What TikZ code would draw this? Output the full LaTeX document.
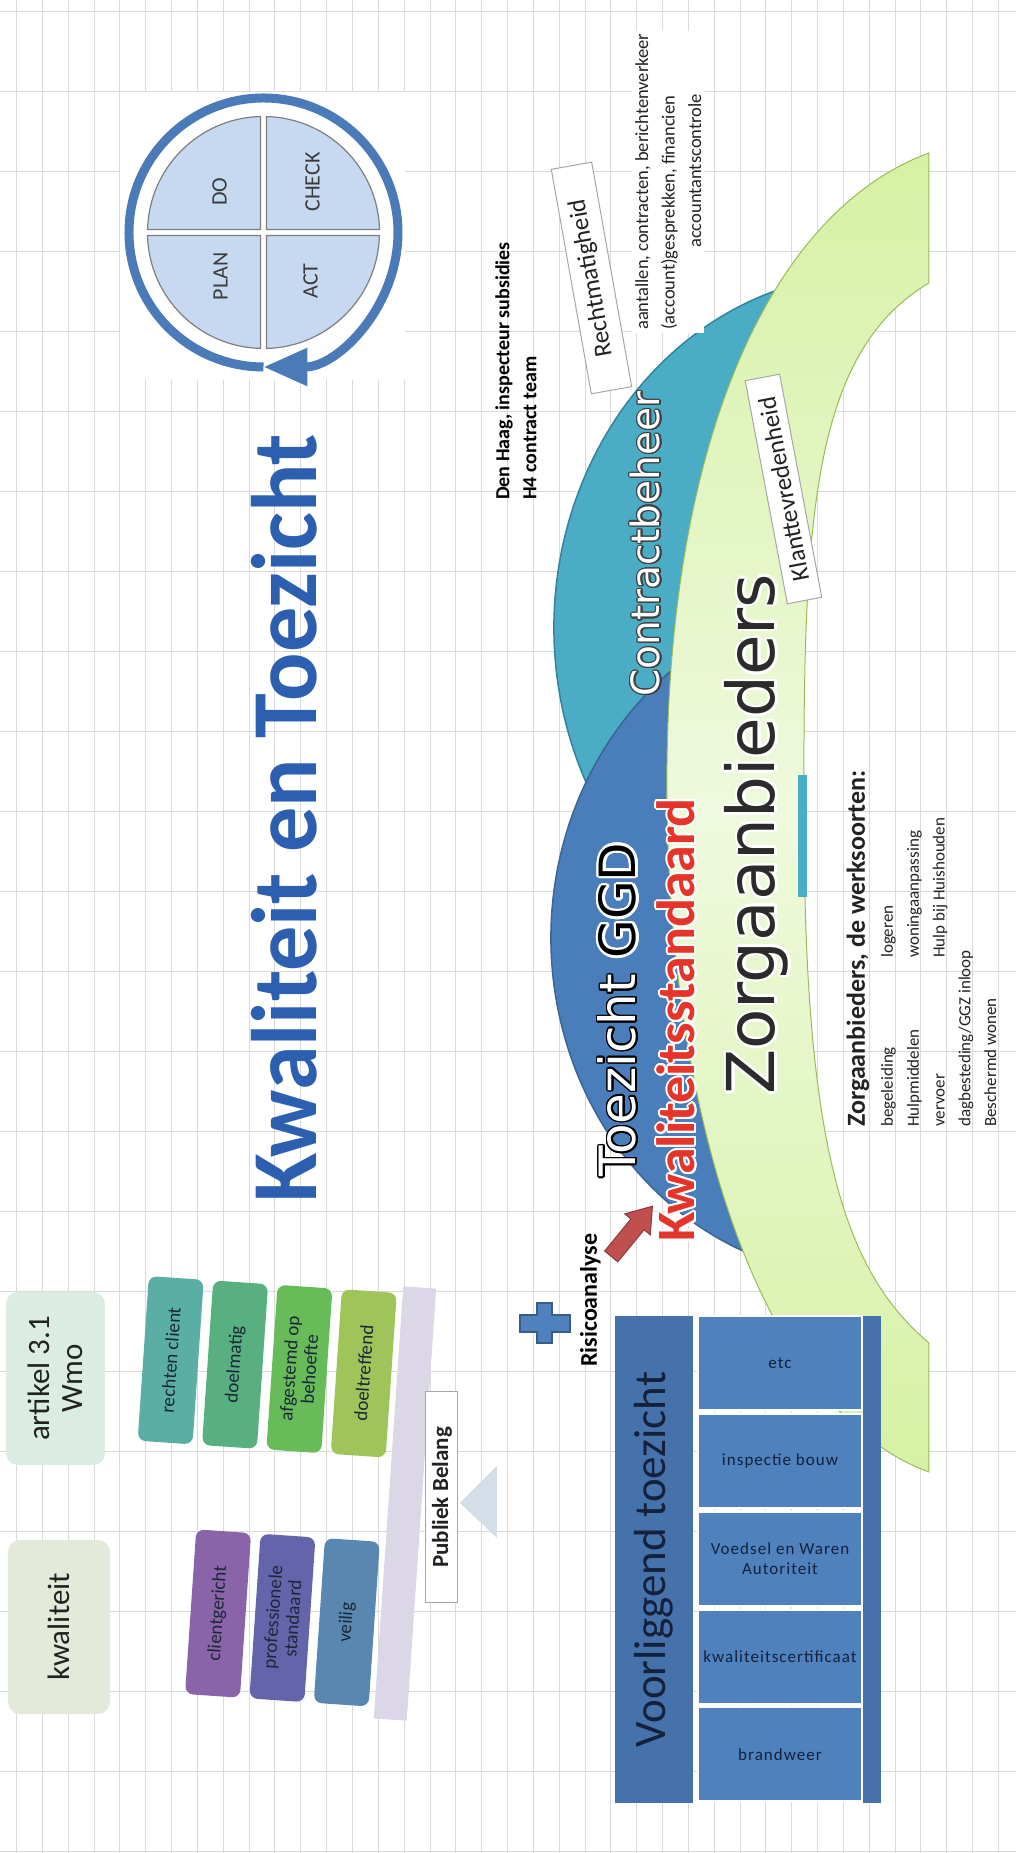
\documentclass[tikz,border=0pt]{standalone}
\usepackage{fontspec}
\setmainfont{Carlito}
\newfontfamily\roundfont{DejaVu Sans}
\newfontfamily\cellfont[LetterSpace=6]{Carlito}
\usepackage[copies]{contour}
\usetikzlibrary{arrows.meta, shapes.arrows}

% colours
\definecolor{gridgray}{HTML}{DADADA}
\definecolor{pdcablue}{HTML}{4A7AB8}
\definecolor{pdcafill}{HTML}{C6D9F1}
\definecolor{quadedge}{HTML}{7F7F7F}
\definecolor{labeltext}{HTML}{3B3B3B}
\definecolor{titleblue}{HTML}{2C5FB0}
\definecolor{darktext}{HTML}{222222}
\definecolor{wmogreen}{HTML}{DBECE3}
\definecolor{kwalgreen}{HTML}{E3EAD9}
\definecolor{beamlav}{HTML}{DCD7E7}
\definecolor{fulcrum}{HTML}{D3DEE8}
\definecolor{labelgray}{HTML}{A6A6A6}
\definecolor{pillartext}{HTML}{1B2838}
\definecolor{cRechten}{HTML}{5BAEA4}
\definecolor{cDoelmatig}{HTML}{58B080}
\definecolor{cAfgestemd}{HTML}{67BB58}
\definecolor{cDoeltreffend}{HTML}{9EC45A}
\definecolor{cClient}{HTML}{8A64A8}
\definecolor{cProf}{HTML}{6464AA}
\definecolor{cVeilig}{HTML}{5A87AF}
\definecolor{ggdblue}{HTML}{4A7EBB}
\definecolor{ggdedge}{HTML}{3A6594}
\definecolor{cbteal}{HTML}{4BACC6}
\definecolor{cbedge}{HTML}{31849B}
\definecolor{bandend}{HTML}{D6F1A4}
\definecolor{bandmid}{HTML}{EFF9DE}
\definecolor{bandedge}{HTML}{9BBB59}
\definecolor{kwred}{HTML}{E5352B}
\definecolor{zorgdark}{HTML}{2B2B2B}
\definecolor{vtdark}{HTML}{4672AB}
\definecolor{cellblue}{HTML}{4F81BD}
\definecolor{vttext}{HTML}{14213D}
\definecolor{plusblue}{HTML}{4F81BD}
\definecolor{plusedge}{HTML}{385D8A}
\definecolor{riskred}{HTML}{C0504D}
\definecolor{riskedge}{HTML}{8C3A37}

\tikzset{
  gridline/.style={draw=gridgray, line width=1pt},
  quadrant/.style={fill=pdcafill, draw=quadedge, line width=1.2pt},
  pdcalabel/.style={text=labeltext, font=\fontsize{22}{24}\selectfont, inner sep=0pt},
  pdcaring/.style={draw=pdcablue, line width=9pt},
  topbox/.style={rounded corners=12pt, text=darktext, align=center, font=\fontsize{31}{33}\selectfont},
  pillar/.style={rounded corners=8pt, minimum width=165pt, minimum height=55pt, inner sep=2pt,
    align=center, text=pillartext, font=\fontsize{19}{20}\selectfont, transform shape},
  labelbox/.style={fill=white, draw=labelgray, line width=1pt, inner sep=0pt, text=darktext,
    font=\fontsize{25}{28}\selectfont},
  dome/.style={line width=1.5pt},
  band/.style={left color=bandend, right color=bandend, middle color=bandmid, draw=bandedge, line width=1pt},
  bigword/.style={anchor=base west, inner sep=0pt},
  vthead/.style={fill=vtdark, minimum width=487pt, minimum height=78pt, text=vttext,
    font=\fontsize{45}{48}\selectfont},
  cellbox/.style={fill=cellblue, draw=white, line width=2pt, minimum width=164pt, minimum height=94pt,
    inner sep=1pt, align=center, text=vttext, font=\cellfont\fontsize{17}{20}\selectfont},
  riskarrow/.style={single arrow, fill=riskred, draw=riskedge, line width=1pt, minimum height=65pt,
    inner xsep=0pt, inner ysep=8pt, single arrow head extend=8pt, single arrow tip angle=70},
  listitem/.style={anchor=base west, inner sep=0pt, text=darktext, font=\fontsize{17}{19}\selectfont}
}

\begin{document}
\begin{tikzpicture}[x=1pt, y=1pt]
    % Page (portrait), the sheet itself is drawn turned
    \useasboundingbox (-1016,0) rectangle (0,1853);
    \fill[white] (-1016,0) rectangle (0,1853);

    \begin{scope}[transform canvas={rotate=90}]
        % Spreadsheet grid
        \foreach \c in {0,...,23}
            \draw[gridline] ({1.3+80*\c},0) -- ({1.3+80*\c},1016);
        \foreach \r in {0,...,38}
            \draw[gridline] (0,{17.5+25.84*\r}) -- (1853,{17.5+25.84*\r});

        % PDCA circle
        \fill[white] (1473,611) rectangle (1761,896);
        \coordinate (pdca) at (1620.5,752.5);
        \foreach \a in {0,90,180,270}
            \draw[quadrant, rotate around={\a:(pdca)}] (pdca) ++(3,3) -- ++(113,0)
                arc[start angle=1.5, end angle=88.5, radius=116] -- cycle;
        \node[pdcalabel] (plan) at (1576.5,795.5) {PLAN};
        \node[pdcalabel] (do) at (1661.5,796.5) {DO};
        \node[pdcalabel] (check) at (1671,703.5) {CHECK};
        \node[pdcalabel] (act) at (1572,705.5) {ACT};
        \draw[pdcaring, -{Triangle[length=44pt, width=36pt]}] (pdca) ++(-134.5,0)
            arc[start angle=180, end angle=-180, radius=134.5];

        % Title
        \node[bigword, text=titleblue, font=\bfseries\fontsize{93}{100}\selectfont] (title)
            at (650,699) {\scalebox{0.97}[1]{Kwaliteit en Toezicht}};

        % Top left boxes
        \node[topbox, fill=wmogreen, minimum width=173pt, minimum height=99pt] (wmo) at (474.5,960.5) {artikel 3.1\\Wmo};
        \node[topbox, fill=kwalgreen, minimum width=174pt, minimum height=102pt] (kwaliteit) at (226,957) {kwaliteit};

        % Balance
        \fill[fulcrum] (350,556) -- (387,519) -- (315,519) -- cycle;
        \begin{scope}[shift={(349.5,611)}, rotate=-3.9]
            \fill[beamlav] (-216.5,-16.5) rectangle (216.5,16.5);
            \foreach \name/\col/\txt [count=\k from 0] in {doeltreffend/cDoeltreffend/doeltreffend,
                    afgestemd/cAfgestemd/{afgestemd op\\behoefte}, doelmatig/cDoelmatig/doelmatig,
                    rechten/cRechten/rechten client}
                \node[pillar, fill=\col] (\name) at (127,{50+64.5*\k}) {\txt};
            \foreach \name/\col/\txt [count=\k from 0] in {veilig/cVeilig/veilig,
                    professioneel/cProf/{professionele\\standaard}, clientgericht/cClient/clientgericht}
                \node[pillar, fill=\col] (\name) at (-122.5,{50+64.5*\k}) {\txt};
        \end{scope}
        \node[labelbox, font=\bfseries\fontsize{23}{25}\selectfont, minimum width=211pt, minimum height=32pt]
            (publiek) at (355.5,574) {Publiek Belang};

        % Domes and the Zorgaanbieders band
        \filldraw[dome, fill=cbteal, draw=cbedge] (1225,140) ++(15.3:355 and 322)
            arc[start angle=15.3, end angle=164.7, x radius=355, y radius=322] -- cycle;
        \filldraw[dome, fill=ggdblue, draw=ggdedge] (915,150) ++(13.8:340 and 315)
            arc[start angle=13.8, end angle=166.2, x radius=340, y radius=315] -- cycle;
        \shadedraw[band] (381,87) .. controls (440,250) and (720,345) .. (1050,349)
            .. controls (1400,353) and (1640,250) .. (1700,87)
            -- (1570,87) .. controls (1500,205) and (1330,213) .. (1040,212)
            .. controls (700,212) and (580,170) .. (510,87) -- cycle;
        \fill[cbteal] (956,209) rectangle (1078,218);

        % Words on the domes and the band
        \node[bigword, text=white, font=\roundfont\fontsize{39}{41}\selectfont] (contract)
            at (1156,356) {\contourlength{1.2pt}\contour{darkgray}{Contractbeheer}};
        \node[bigword, font=\roundfont\fontsize{50}{52}\selectfont] (ggd) at (676,380)
            {\contourlength{1.5pt}\textcolor{white}{\contour{black}{Toezicht}} \contourlength{2.5pt}\contour{white}{GGD}};
        \node[bigword, text=kwred, font=\bfseries\fontsize{54}{56}\selectfont] (standaard)
            at (611,321) {\contourlength{2pt}\contour{white}{Kwaliteitsstandaard}};
        \node[bigword, text=zorgdark, font=\roundfont\fontsize{66}{70}\selectfont] (zorg)
            at (758,241) {\contourlength{2.5pt}\contour{white}{Zorgaanbieders}};

        % Labels round the domes
        \node[labelbox, rotate=10.1, minimum width=228pt, minimum height=41pt] (recht) at (1575,424.5) {Rechtmatigheid};
        \node[labelbox, rotate=10.7, minimum width=227pt, minimum height=35pt] (klant) at (1364,232.5) {Klanttevredenheid};
        \node[fill=white, anchor=north west, inner sep=3pt, align=left, text=darktext,
            font=\fontsize{18.5}{26.5}\selectfont] (aantallen) at (1520,384)
            {aantallen, contracten, berichtenverkeer\\(account)gesprekken, financien\\\hspace*{82pt}accountantscontrole};
        \node[anchor=west, inner sep=0pt, align=left, font=\bfseries\fontsize{20}{27}\selectfont] (denhaag)
            at (1353,500) {Den Haag, inspecteur subsidies\\H4 contract team};

        % Voorliggend toezicht
        \node[vthead] (vtkop) at (293.5,362) {Voorliggend toezicht};
        \foreach \name/\txt [count=\k from 0] in {brandweer/brandweer, certificaat/kwaliteitscertificaat,
                vwa/{Voedsel en Waren\\Autoriteit}, bouw/inspectie bouw, etc/etc}
            \node[cellbox, rotate=-90] (\name) at ({98.5+97.75*\k},236) {\txt};
        \fill[vtdark] (50,135) rectangle (537,153);

        % Risicoanalyse
        \filldraw[fill=plusblue, draw=plusedge, line width=1.5pt] (521,446) -- (538,446) -- (538,464)
            -- (550,464) -- (550,479) -- (538,479) -- (538,496) -- (521,496) -- (521,479)
            -- (510,479) -- (510,464) -- (521,464) -- cycle;
        \node[anchor=base west, inner sep=0pt, font=\bfseries\fontsize{24}{26}\selectfont] (risico)
            at (486,419) {Risicoanalyse};
        \node[riskarrow, rotate=-39.4] (riskpijl) at (617,388) {};

        % Werksoorten
        \node[anchor=base west, inner sep=0pt, text=darktext, font=\bfseries\fontsize{26}{28}\selectfont]
            (werksoorten) at (726,151) {Zorgaanbieders, de werksoorten:};
        \foreach \txt [count=\k from 0] in {begeleiding, Hulpmiddelen, vervoer, {dagbesteding/GGZ inloop}, Beschermd wonen}
            \node[listitem] (soort\k) at (726,{123-25.8*\k}) {\txt};
        \foreach \txt [count=\k from 0] in {logeren, woningaanpassing, Hulp bij Huishouden}
            \node[listitem] (extra\k) at (895,{123-25.8*\k}) {\txt};
    \end{scope}
\end{tikzpicture}
\end{document}
